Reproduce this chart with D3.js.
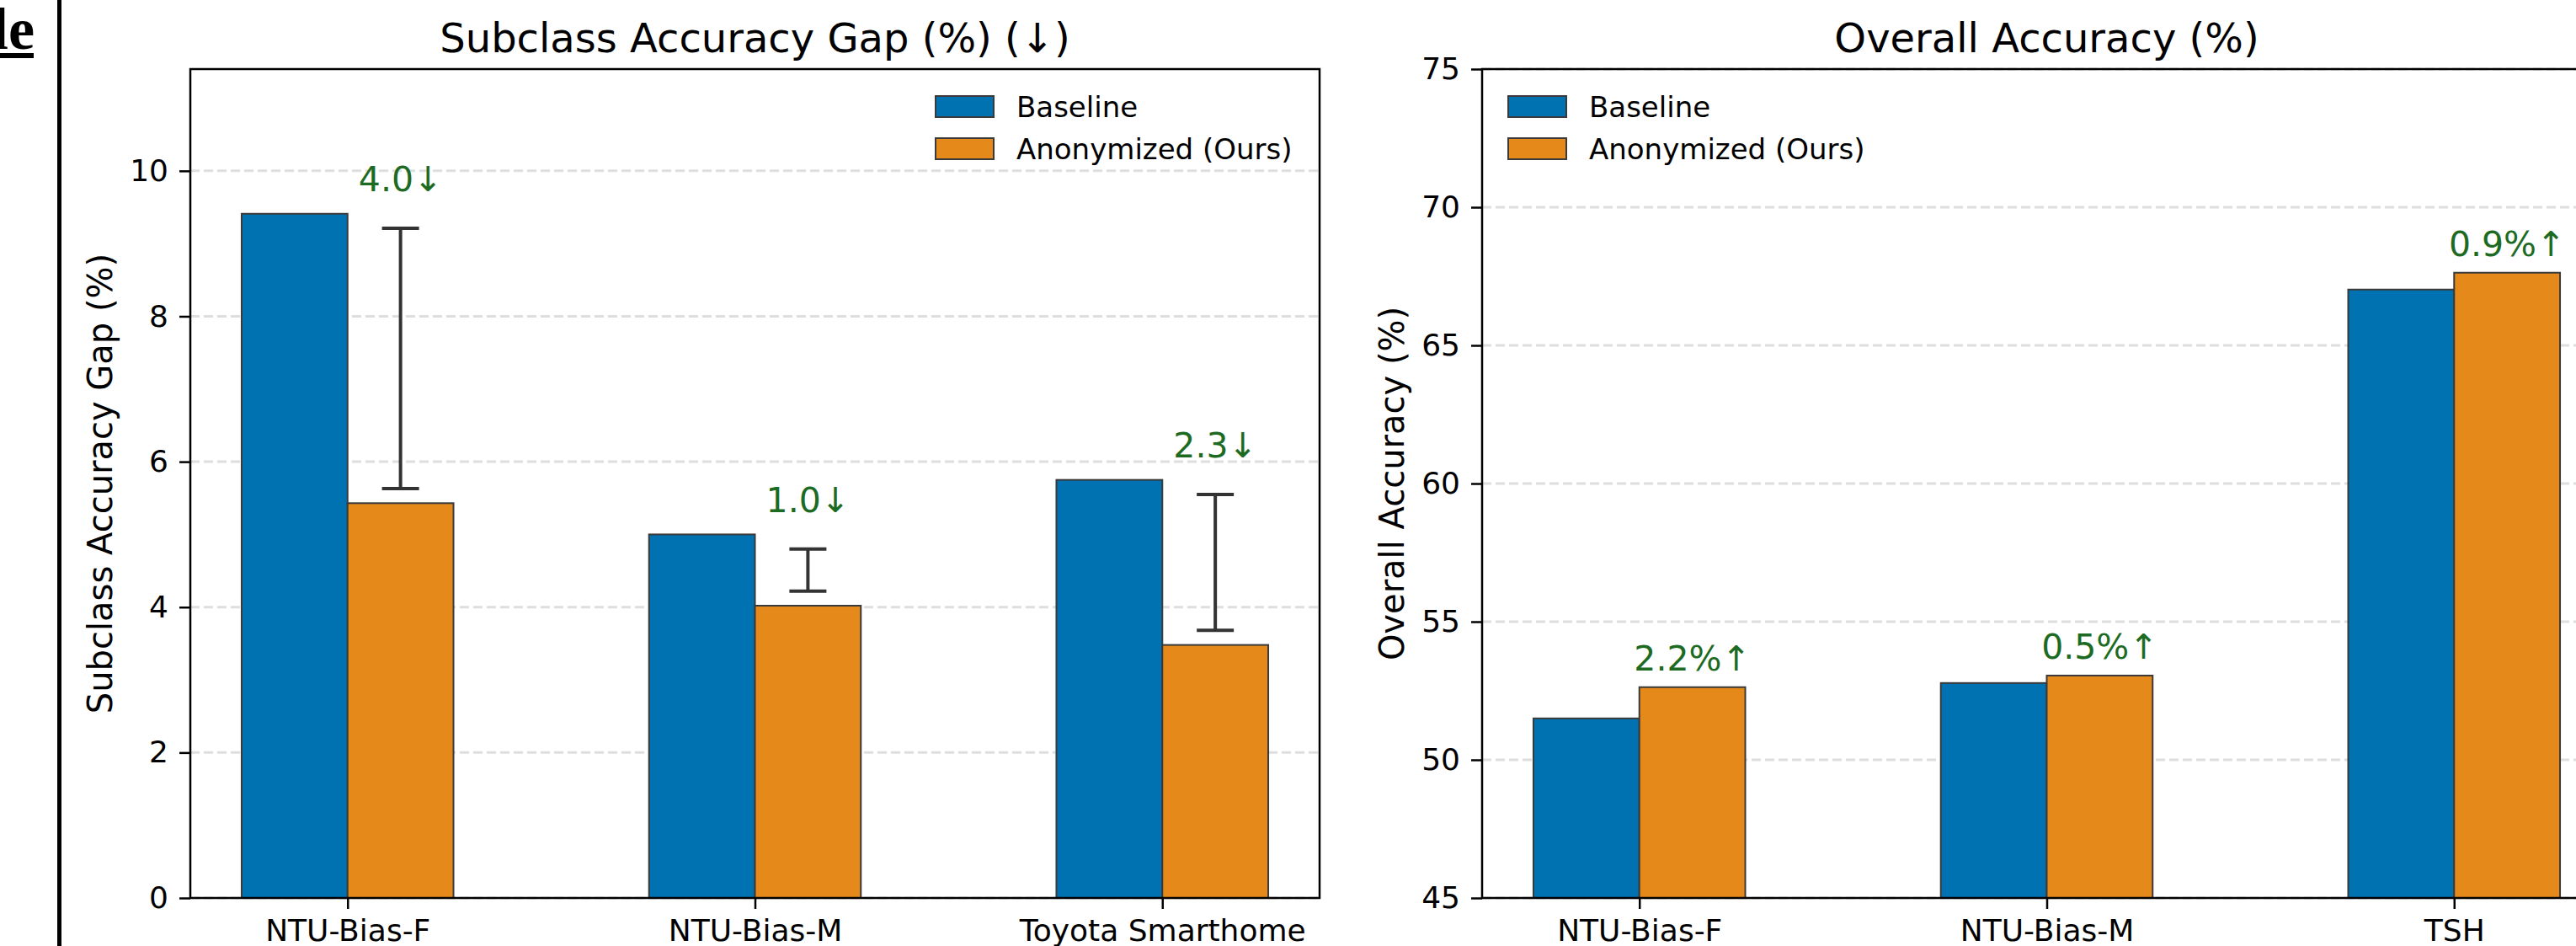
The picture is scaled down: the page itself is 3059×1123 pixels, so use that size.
<!DOCTYPE html>
<html>
<head>
<meta http-equiv="Content-Type" content="text/html; charset=utf-8">
<script src="https://cdnjs.cloudflare.com/ajax/libs/d3/7.8.5/d3.min.js"></script>
<style>
  body { margin: 0; background: #fff; }
  svg { display: block; }
  text { font-family: "DejaVu Sans", sans-serif; }
</style>
</head>
<body>
<div id="chart"></div>
<script>

// ---------------------------------------------------------------- DATA
var seriesNames = ["Baseline", "Anonymized (Ours)"];

var gapCategories = ["NTU-Bias-F", "NTU-Bias-M", "Toyota Smarthome"];
var gapBaseline = [9.41, 5.00, 5.75];
var gapOurs = [5.43, 4.02, 3.48];
var gapTicks = [0, 2, 4, 6, 8, 10];

var accCategories = ["NTU-Bias-F", "NTU-Bias-M", "TSH"];
var accBaseline = [51.50, 52.78, 67.02];
var accOurs = [52.63, 53.05, 67.63];
var accTicks = [45, 50, 55, 60, 65, 70, 75];

// ---------------------------------------------------------------- SVG
var width = 3059;
var height = 1123;

var svg = d3.select("#chart")
  .append("svg")
  .attr("width", width)
  .attr("height", height);

var colors = ["#0072B2", "#E4891A"];
var green = "#1d6b22";
var barW = 0.26;

// the cut-off heading from the page the chart sits in
svg.append("text")
  .attr("x", 41)
  .attr("y", 58)
  .attr("text-anchor", "end")
  .style("font-family", "'Liberation Serif', serif")
  .style("font-weight", "bold")
  .style("font-size", "70px")
  .text("le");
svg.append("rect").attr("x", 0).attr("y", 63).attr("width", 40).attr("height", 6).attr("fill", "#000");
svg.append("line")
  .attr("x1", 70.5).attr("x2", 70.5)
  .attr("y1", 0).attr("y2", height)
  .attr("stroke", "#000").attr("stroke-width", 5);

// ---------------------------------------------------------------- PANEL
function drawPanel(opt) {
  var left = opt.left, right = opt.left + 1341, top = 82, bottom = 1066;
  var n = opt.categories.length;
  var pad = 0.05 * (n - 1 + 2 * barW);

  var x = d3.scaleLinear()
    .domain([-barW - pad, n - 1 + barW + pad])
    .range([left, right]);
  var y = d3.scaleLinear()
    .domain(opt.yDomain)
    .range([bottom, top]);

  var g = svg.append("g");

  // grid
  g.selectAll("line.grid")
    .data(opt.ticks)
    .enter()
    .append("line")
    .attr("class", "grid")
    .attr("x1", left).attr("x2", right)
    .attr("y1", function(d) { return y(d); })
    .attr("y2", function(d) { return y(d); })
    .attr("stroke", "#dedede")
    .attr("stroke-width", 3)
    .attr("stroke-dasharray", "11,5");

  // bars
  var series = [opt.baseline, opt.ours];
  series.forEach(function(vals, s) {
    g.selectAll("rect.s" + s)
      .data(vals)
      .enter()
      .append("rect")
      .attr("class", "s" + s)
      .attr("x", function(d, i) { return s === 0 ? x(i - barW) : x(i); })
      .attr("width", x(barW) - x(0))
      .attr("y", function(d) { return y(d); })
      .attr("height", function(d) { return bottom - y(d); })
      .attr("fill", colors[s])
      .attr("stroke", "#3a3a3a")
      .attr("stroke-width", 2);
  });

  // error-bar style brackets (left panel only)
  if (opt.brackets) {
    var br = g.selectAll("g.br")
      .data(opt.ours)
      .enter()
      .append("g")
      .attr("class", "br");
    br.each(function(d, i) {
      var cx = x(i + barW / 2);
      var lo = d + 0.2, hi = opt.baseline[i] - 0.2;
      var sel = d3.select(this);
      sel.append("line").attr("x1", cx).attr("x2", cx).attr("y1", y(lo)).attr("y2", y(hi));
      sel.append("line").attr("x1", cx - 22).attr("x2", cx + 22).attr("y1", y(lo)).attr("y2", y(lo));
      sel.append("line").attr("x1", cx - 22).attr("x2", cx + 22).attr("y1", y(hi)).attr("y2", y(hi));
      sel.selectAll("line").attr("stroke", "#333").attr("stroke-width", 4);
    });
  }

  // annotations
  g.selectAll("text.note")
    .data(opt.ours)
    .enter()
    .append("text")
    .attr("class", "note")
    .attr("x", function(d, i) { return x(i + barW / 2); })
    .attr("y", function(d, i) { return opt.noteY(d, i, y); })
    .attr("text-anchor", "middle")
    .attr("fill", green)
    .style("font-size", "41px")
    .text(function(d, i) { return opt.noteText(d, i); });

  // axes
  var yAxis = d3.axisLeft(y).tickValues(opt.ticks).tickSize(13).tickPadding(13);
  var ya = g.append("g").attr("transform", "translate(" + left + ",0)").call(yAxis);
  var xAxis = d3.axisBottom(x).tickValues(d3.range(n))
    .tickFormat(function(i) { return opt.categories[i]; })
    .tickSize(13).tickPadding(12);
  var xa = g.append("g").attr("transform", "translate(0," + bottom + ")").call(xAxis);
  [ya, xa].forEach(function(a) {
    a.select(".domain").remove();
    a.selectAll(".tick line").attr("stroke", "#000").attr("stroke-width", 2.5);
    a.selectAll(".tick text")
      .attr("fill", "#000")
      .style("font-family", "'DejaVu Sans', sans-serif")
      .style("font-size", "36px");
  });

  // frame
  g.append("rect")
    .attr("x", left).attr("y", top)
    .attr("width", right - left).attr("height", bottom - top)
    .attr("fill", "none")
    .attr("stroke", "#000")
    .attr("stroke-width", 2.5);

  // title and y label
  g.append("text")
    .attr("x", (left + right) / 2)
    .attr("y", 62)
    .attr("text-anchor", "middle")
    .style("font-size", "48px")
    .text(opt.title);
  g.append("text")
    .attr("transform", "translate(" + (left - 93) + "," + ((top + bottom) / 2) + ") rotate(-90)")
    .attr("text-anchor", "middle")
    .style("font-size", "40px")
    .text(opt.ylabel);

  // legend
  var lg = g.append("g").attr("transform", "translate(" + opt.legendX + ",114)");
  seriesNames.forEach(function(name, s) {
    lg.append("rect")
      .attr("x", 0).attr("y", s * 50)
      .attr("width", 69).attr("height", 25)
      .attr("fill", colors[s])
      .attr("stroke", "#3a3a3a")
      .attr("stroke-width", 2);
    lg.append("text")
      .attr("x", 96).attr("y", s * 50 + 25)
      .style("font-size", "34px")
      .text(name);
  });
}

drawPanel({
  left: 226,
  categories: gapCategories,
  baseline: gapBaseline,
  ours: gapOurs,
  ticks: gapTicks,
  yDomain: [0, 11.4],
  brackets: true,
  title: "Subclass Accuracy Gap (%) (\u2193)",
  ylabel: "Subclass Accuracy Gap (%)",
  legendX: 1111,
  noteY: function(d, i, y) { return y(gapBaseline[i] - 0.2) - 44; },
  noteText: function(d, i) { return (gapBaseline[i] - d).toFixed(1) + "\u2193"; }
});

drawPanel({
  left: 1760,
  categories: accCategories,
  baseline: accBaseline,
  ours: accOurs,
  ticks: accTicks,
  yDomain: [45, 75],
  brackets: false,
  title: "Overall Accuracy (%)",
  ylabel: "Overall Accuracy (%)",
  legendX: 1791,
  noteY: function(d, i, y) { return y(d) - 20; },
  noteText: function(d, i) { return ((d - accBaseline[i]) / accBaseline[i] * 100).toFixed(1) + "%\u2191"; }
});

</script>
</body>
</html>
